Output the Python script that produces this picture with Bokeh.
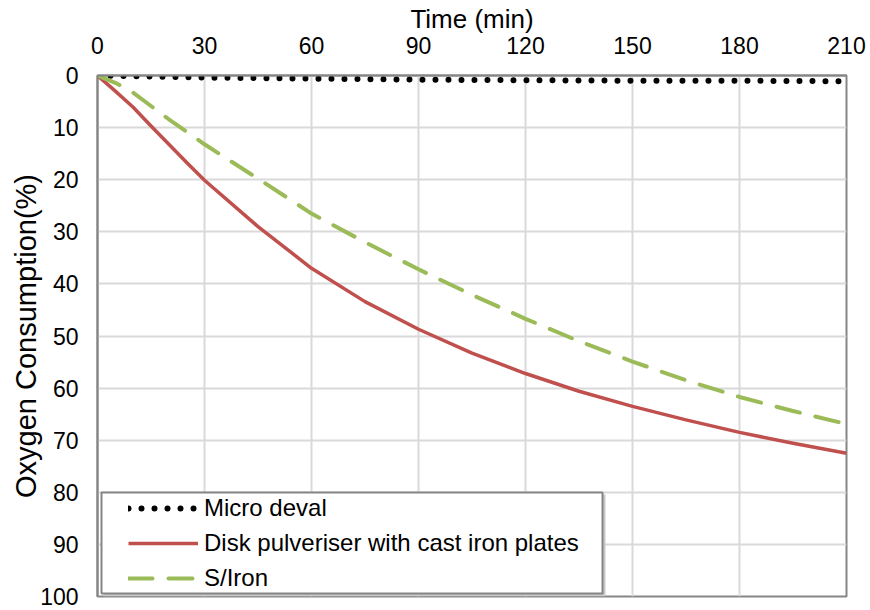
from bokeh.plotting import figure
from bokeh.models import (Range1d, FixedTicker, Legend, LegendItem, BoxAnnotation)
from bokeh.embed import file_html
from bokeh.resources import INLINE

# ---- data ----
time_micro = [0, 30, 60, 90, 120, 150, 180, 210]
micro_deval = [0, 0.4, 0.6, 0.8, 0.9, 1.0, 1.0, 1.1]

time_disk = [0, 5, 10, 15, 20, 25, 30, 45, 60, 75, 90, 105, 120, 135, 150, 165, 180, 195, 210]
disk_pulveriser = [0, 3.0, 6.1, 9.7, 13.2, 16.7, 20.1, 29.0, 37.0, 43.4, 48.7, 53.3, 57.2,
                   60.6, 63.5, 66.1, 68.5, 70.6, 72.5]

time_siron = [0, 5, 10, 20, 30, 45, 60, 75, 90, 105, 120, 135, 150, 165, 180, 195, 210]
s_iron = [0, 1.4, 3.3, 8.4, 13.2, 19.8, 26.5, 32.0, 37.2, 42.1, 46.7, 51.0, 54.9,
          58.5, 61.7, 64.4, 66.9]

x_ticks = [0, 30, 60, 90, 120, 150, 180, 210]
y_ticks = [0, 10, 20, 30, 40, 50, 60, 70, 80, 90, 100]

series_names = ["Micro deval", "Disk pulveriser with cast iron plates", "S/Iron"]

FONT = "Liberation Sans"
AXIS_GRAY = "#868686"
GRID_GRAY = "#D9D9D9"

p = figure(width=866, height=610,
           x_range=Range1d(0, 210), y_range=Range1d(100, 0),
           x_axis_location="above",
           output_backend="svg", toolbar_location=None,
           min_border_left=97, min_border_top=74,
           min_border_right=20, min_border_bottom=14)

p.background_fill_color = "white"
p.border_fill_color = "white"
p.outline_line_color = AXIS_GRAY
p.outline_line_width = 2

# axes
xa = p.xaxis[0]
ya = p.yaxis[0]
xa.ticker = FixedTicker(ticks=x_ticks)
ya.ticker = FixedTicker(ticks=y_ticks)
xa.axis_label = "Time (min)"
ya.axis_label = "Oxygen Consumption(%)"
for ax in (xa, ya):
    ax.axis_line_color = AXIS_GRAY
    ax.axis_line_width = 2
    ax.major_tick_in = 0
    ax.major_tick_out = 0
    ax.minor_tick_in = 0
    ax.minor_tick_out = 0
    ax.major_label_text_font = FONT
    ax.major_label_text_font_size = "23px"
    ax.major_label_text_color = "black"
    ax.axis_label_text_font = FONT
    ax.axis_label_text_font_style = "normal"
    ax.axis_label_text_color = "black"
xa.axis_label_text_font_size = "26px"
ya.axis_label_text_font_size = "29px"
xa.major_label_standoff = 22
xa.axis_label_standoff = 0
ya.major_label_standoff = 19
ya.axis_label_standoff = -5

p.xgrid.ticker = FixedTicker(ticks=x_ticks)
p.ygrid.ticker = FixedTicker(ticks=y_ticks)
for g in (p.xgrid[0], p.ygrid[0]):
    g.grid_line_color = GRID_GRAY
    g.grid_line_width = 2

# lines
r_micro = p.line(time_micro, micro_deval, line_color="black", line_width=6,
                 line_dash="0 13", line_cap="round")
r_disk = p.line(time_disk, disk_pulveriser, line_color="#C0504D", line_width=3.5,
                line_join="round")
r_siron = p.line(time_siron, s_iron, line_color="#9BBB59", line_width=4,
                 line_dash="24 16", line_cap="round")

# legend frame (shadow + box)
shadow = BoxAnnotation(left=6, right=508, bottom=0, top=102,
                       left_units="screen", right_units="screen",
                       bottom_units="screen", top_units="screen",
                       fill_color="#C8C8C8", fill_alpha=1, line_alpha=0)
box = BoxAnnotation(left=4, right=505, bottom=3, top=104,
                    left_units="screen", right_units="screen",
                    bottom_units="screen", top_units="screen",
                    fill_color="white", fill_alpha=1,
                    line_color=AXIS_GRAY, line_width=2, line_alpha=1)
p.add_layout(shadow)
p.add_layout(box)

legend = Legend(items=[LegendItem(label=series_names[0], renderers=[r_micro]),
                       LegendItem(label=series_names[1], renderers=[r_disk]),
                       LegendItem(label=series_names[2], renderers=[r_siron])],
                location=(31, 2),
                padding=0, margin=0, spacing=3,
                glyph_width=70, glyph_height=20,
                label_height=32, label_standoff=6,
                label_text_font=FONT, label_text_font_size="24px",
                label_text_color="black",
                border_line_alpha=0, background_fill_alpha=0)
p.add_layout(legend)

open("out.html", "w").write(file_html(p, INLINE))
